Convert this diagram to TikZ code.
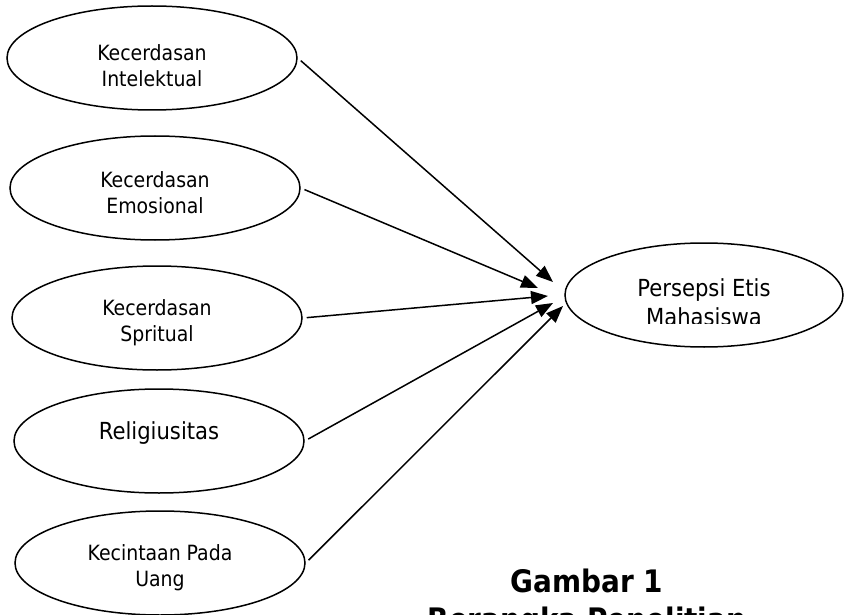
\documentclass[tikz,border=0pt]{standalone}
\usepackage{fontspec}
\setmainfont{DejaVu Sans Condensed}
\usetikzlibrary{shapes.geometric,arrows.meta}

\begin{document}
\begin{tikzpicture}[x=1pt,y=-1pt,
    oval/.style={draw,ellipse,line width=1.5pt,minimum width=290pt,minimum height=104pt,inner sep=0pt},
    lbl/.style={align=center,inner sep=0pt,font=\fontsize{21}{26}\selectfont},
    lblbig/.style={align=center,inner sep=0pt,font=\fontsize{23.5}{29}\selectfont},
    arr/.style={-{Triangle[length=17pt,width=13pt]},line width=1.5pt,shorten <=4pt}]
  \useasboundingbox (0,0) rectangle (844,615);
  % variabel bebas
  \node[oval] (ki) at (152,58) {};
  \node[oval] (ke) at (155,188) {};
  \node[oval] (ks) at (157,318) {};
  \node[oval] (rel) at (159,441) {};
  \node[oval] (kc) at (160,563) {};
  \node[lbl] (ki-t) at (152,66) {Kecerdasan\\Intelektual};
  \node[lbl] (ke-t) at (155,193) {Kecerdasan\\Emosional};
  \node[lbl] (ks-t) at (157,323) {Kecerdasan\\Spritual};
  \node[lblbig] (rel-t) at (159,433) {Religiusitas};
  \begin{scope}
    \clip (10,520) rectangle (310,591);
    \node[lbl] (kc-t) at (160,568) {Kecintaan Pada\\Uang};
  \end{scope}
  % variabel terikat
  \node[oval,minimum width=278pt] (pe) at (704,295) {};
  \begin{scope}
    \clip (570,250) rectangle (840,323.5);
    \node[lblbig] (pe-t) at (704,302) {Persepsi Etis\\Mahasiswa};
  \end{scope}
  % ujung panah
  \coordinate (t1) at (553,282);
  \coordinate (t2) at (538,288);
  \coordinate (t3) at (548,296);
  \coordinate (t4) at (553,303);
  \coordinate (t5) at (563,306);
  \draw[arr] (ki.east) -- (t1);
  \draw[arr] (ke.east) -- (t2);
  \draw[arr] (ks.east) -- (t3);
  \draw[arr] (rel.east) -- (t4);
  \draw[arr] (kc.east) -- (t5);
  % judul
  \node[align=center,inner sep=0pt,anchor=north,font=\bfseries\fontsize{31}{38}\selectfont]
    (judul) at (587,569) {Gambar 1\\Berangka Penelitian};
\end{tikzpicture}
\end{document}
